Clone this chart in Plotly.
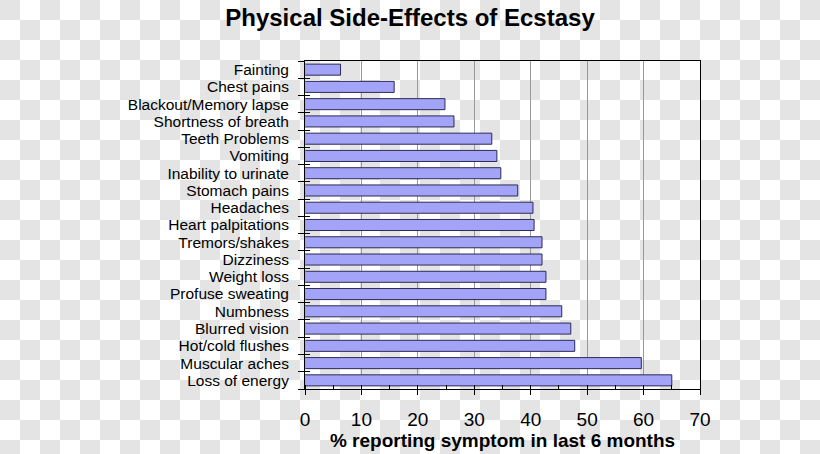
import plotly.graph_objects as go

symptoms = ["Fainting", "Chest pains", "Blackout/Memory lapse", "Shortness of breath",
            "Teeth Problems", "Vomiting", "Inability to urinate", "Stomach pains",
            "Headaches", "Heart palpitations", "Tremors/shakes", "Dizziness",
            "Weight loss", "Profuse sweating", "Numbness", "Blurred vision",
            "Hot/cold flushes", "Muscular aches", "Loss of energy"]
percent = [6.3, 15.8, 24.8, 26.4, 33.1, 34.0, 34.7, 37.7, 40.4, 40.6, 42.0, 42.0,
           42.7, 42.7, 45.5, 47.1, 47.8, 59.6, 65.0]
x_ticks = [0, 10, 20, 30, 40, 50, 60, 70]

W, H = 820, 454
L, R, T, B = 305, 120, 61, 65
pw, ph = W - L - R, H - T - B

# checkerboard backdrop (transparency pattern of the source picture), as paper shapes
CELL = 20
shapes = []
for j in range((H + CELL - 1) // CELL):
    for i in range((W + CELL - 1) // CELL):
        if (i + j) % 2 == 0:
            x0, y0 = i * CELL, j * CELL
            x1, y1 = min(x0 + CELL, W), min(y0 + CELL, H)
            shapes.append(dict(
                type="rect", xref="paper", yref="paper", layer="below",
                x0=(x0 - L) / pw, x1=(x1 - L) / pw,
                y0=1 - (y0 - T) / ph, y1=1 - (y1 - T) / ph,
                fillcolor="#e4e4e4", opacity=1, line=dict(width=0)))

fig = go.Figure()
fig.add_trace(go.Bar(
    x=percent, y=symptoms, orientation="h",
    marker=dict(color="#a3a3f8", line=dict(color="#2b2b55", width=1)),
    hoverinfo="skip",
))
# transparent trace on an overlay axis, for ticks crossing into the plot
fig.add_trace(go.Bar(x=[0] * len(symptoms), y=symptoms, orientation="h",
                     yaxis="y2", marker=dict(color="rgba(0,0,0,0)"), hoverinfo="skip",
                     showlegend=False))

fig.update_layout(
    width=W, height=H,
    margin=dict(l=L, r=R, t=T, b=B, autoexpand=False),
    paper_bgcolor="white",
    plot_bgcolor="rgba(0,0,0,0)",
    showlegend=False,
    bargap=0.36,
    shapes=shapes,
    font=dict(family="Liberation Sans, Arial, sans-serif", color="black"),
    title=dict(text="<b>Physical Side-Effects of Ecstasy</b>",
               x=410 / W, xanchor="center", y=1 - 18 / H, yanchor="middle",
               font=dict(size=24, color="black")),
    xaxis=dict(
        range=[0, 70], tickvals=x_ticks, ticktext=[str(v) for v in x_ticks],
        showgrid=True, gridcolor="#999999", gridwidth=1,
        showline=True, linecolor="black", linewidth=1, mirror=True,
        ticks="outside", ticklen=5, tickcolor="black",
        minor=dict(dtick=5, tick0=0, ticks="inside", ticklen=4, tickcolor="black", showgrid=False),
        tickfont=dict(size=19), zeroline=False, ticklabelstandoff=8,
        title=dict(text="<b>% reporting symptom in last 6 months</b>",
                   font=dict(size=19), standoff=2),
        fixedrange=True,
    ),
    yaxis=dict(
        autorange="reversed", type="category",
        tickmode="array", tickvals=symptoms, ticktext=symptoms,
        tickson="boundaries", ticks="outside", ticklen=6, tickcolor="black",
        showgrid=False, showline=True, linecolor="black", linewidth=1, mirror=True,
        tickfont=dict(size=15.5), ticklabelstandoff=12, fixedrange=True,
    ),
    yaxis2=dict(
        overlaying="y", matches="y", type="category", autorange="reversed",
        tickson="boundaries", ticks="inside", ticklen=5, tickcolor="black",
        showticklabels=False, showgrid=False, showline=False, side="left",
        fixedrange=True,
    ),
)

fig.write_html("out.html")
